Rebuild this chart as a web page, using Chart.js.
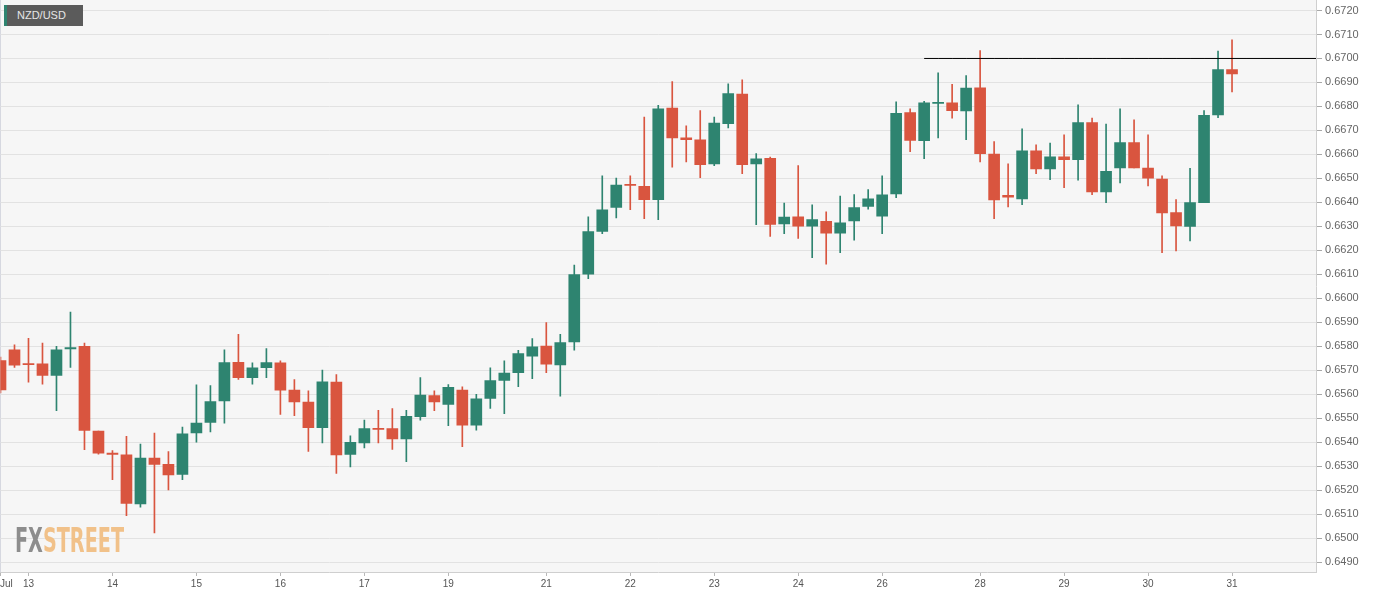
<!DOCTYPE html>
<html>
<head>
<meta charset="utf-8">
<title>NZD/USD</title>
<script src="https://cdn.jsdelivr.net/npm/chart.js@4.4.1/dist/chart.umd.min.js"></script>
<style>
  body { margin: 0; background: #fff; }
  #wrap { position: relative; width: 1387px; height: 598px; overflow: hidden; font-family: "Liberation Sans", Arial, sans-serif; }
  #chart { position: absolute; left: 0; top: 0; }
  #symbol {
    position: absolute; left: 4px; top: 5px; width: 66px; height: 21px;
    background: #5b5b5b; border-left: 3px solid #2e8470;
    color: #e6e6e6; font-size: 11px; line-height: 21px; padding-left: 10px;
  }
  #month { position: absolute; left: 0; top: 578px; font-size: 10px; color: #555; line-height: 12px; }
  #logo {
    position: absolute; left: 15px; top: 523px; font-size: 34px; line-height: 34px; font-weight: bold;
    font-family: "Liberation Sans Narrow", "DejaVu Sans Condensed", "Liberation Sans", sans-serif;
    transform-origin: 0 0; white-space: nowrap;
  }
  #logo .fx { color: #8d8d8d; }
  #logo .st { color: #f1c189; }
</style>
</head>
<body>
<div id="wrap">
  <canvas id="chart" width="1387" height="598"></canvas>
  <div id="symbol">NZD/USD</div>
  <div id="month">Jul</div>
  <div id="logo"><span class="fx">FX</span><span class="st">STREET</span></div>
</div>
<script>
// 4h candles, Jul 13 - Jul 31
const opens = [
  0.65740, 0.65785, 0.65727, 0.65726, 0.65678, 0.65789, 0.65799, 0.65446, 0.65354, 0.65347,
  0.65142, 0.65333, 0.65307, 0.65265, 0.65438, 0.65482, 0.65572, 0.65733, 0.65669, 0.65710,
  0.65731, 0.65617, 0.65567, 0.65460, 0.65650, 0.65349, 0.65397, 0.65457, 0.65456, 0.65413,
  0.65506, 0.65594, 0.65557, 0.65617, 0.65471, 0.65582, 0.65657, 0.65690, 0.65758, 0.65800,
  0.65722, 0.65818, 0.66100, 0.66279, 0.66379, 0.66475, 0.66467, 0.66411, 0.66793, 0.66669,
  0.66661, 0.66560, 0.66728, 0.66851, 0.66560, 0.66583, 0.66310, 0.66340, 0.66301, 0.66321,
  0.66271, 0.66322, 0.66383, 0.66342, 0.66435, 0.66774, 0.66657, 0.66812, 0.66815, 0.66781,
  0.66878, 0.66601, 0.66429, 0.66414, 0.66615, 0.66539, 0.66590, 0.66578, 0.66733, 0.66443,
  0.66543, 0.66649, 0.66543, 0.66497, 0.66357, 0.66300, 0.66399, 0.66765, 0.66954
];
const highs = [
  0.65755, 0.65806, 0.65833, 0.65813, 0.65799, 0.65942, 0.65813, 0.65446, 0.65365, 0.65424,
  0.65392, 0.65438, 0.65361, 0.65463, 0.65639, 0.65636, 0.65785, 0.65849, 0.65731, 0.65790,
  0.65739, 0.65661, 0.65614, 0.65700, 0.65682, 0.65426, 0.65492, 0.65533, 0.65540, 0.65533,
  0.65669, 0.65614, 0.65640, 0.65631, 0.65599, 0.65710, 0.65739, 0.65783, 0.65832, 0.65899,
  0.65849, 0.66138, 0.66339, 0.66511, 0.66501, 0.66511, 0.66756, 0.66804, 0.66904, 0.66719,
  0.66783, 0.66756, 0.66894, 0.66911, 0.66603, 0.66589, 0.66397, 0.66553, 0.66390, 0.66360,
  0.66426, 0.66432, 0.66453, 0.66510, 0.66819, 0.66790, 0.66821, 0.66940, 0.66892, 0.66929,
  0.67033, 0.66653, 0.66561, 0.66707, 0.66640, 0.66647, 0.66682, 0.66807, 0.66751, 0.66726,
  0.66790, 0.66744, 0.66682, 0.66510, 0.66411, 0.66542, 0.66783, 0.67031, 0.67078
];
const lows = [
  0.65605, 0.65712, 0.65650, 0.65642, 0.65531, 0.65712, 0.65368, 0.65350, 0.65243, 0.65093,
  0.65129, 0.65021, 0.65201, 0.65243, 0.65400, 0.65442, 0.65479, 0.65661, 0.65642, 0.65669,
  0.65515, 0.65510, 0.65361, 0.65397, 0.65269, 0.65297, 0.65376, 0.65397, 0.65369, 0.65318,
  0.65492, 0.65531, 0.65469, 0.65381, 0.65450, 0.65540, 0.65519, 0.65631, 0.65665, 0.65690,
  0.65592, 0.65783, 0.66082, 0.66269, 0.66335, 0.66369, 0.66332, 0.66328, 0.66547, 0.66569,
  0.66503, 0.66553, 0.66710, 0.66519, 0.66307, 0.66258, 0.66269, 0.66249, 0.66169, 0.66142,
  0.66190, 0.66242, 0.66371, 0.66269, 0.66419, 0.66611, 0.66582, 0.66669, 0.66751, 0.66661,
  0.66568, 0.66332, 0.66381, 0.66390, 0.66519, 0.66494, 0.66461, 0.66492, 0.66432, 0.66399,
  0.66481, 0.66543, 0.66468, 0.66190, 0.66197, 0.66239, 0.66399, 0.66753, 0.66860
];
const closes = [
  0.65618, 0.65721, 0.65723, 0.65678, 0.65785, 0.65794, 0.65449, 0.65354, 0.65349, 0.65144,
  0.65333, 0.65307, 0.65263, 0.65435, 0.65479, 0.65569, 0.65732, 0.65669, 0.65710, 0.65732,
  0.65617, 0.65568, 0.65460, 0.65651, 0.65347, 0.65399, 0.65456, 0.65453, 0.65413, 0.65508,
  0.65596, 0.65568, 0.65628, 0.65471, 0.65581, 0.65657, 0.65688, 0.65769, 0.65797, 0.65725,
  0.65815, 0.66099, 0.66278, 0.66369, 0.66472, 0.66471, 0.66411, 0.66790, 0.66669, 0.66661,
  0.66557, 0.66731, 0.66853, 0.66557, 0.66581, 0.66308, 0.66338, 0.66301, 0.66328, 0.66271,
  0.66315, 0.66378, 0.66415, 0.66431, 0.66771, 0.66658, 0.66815, 0.66817, 0.66782, 0.66876,
  0.66603, 0.66410, 0.66422, 0.66615, 0.66539, 0.66590, 0.66578, 0.66733, 0.66443, 0.66529,
  0.66649, 0.66543, 0.66501, 0.66356, 0.66302, 0.66399, 0.66763, 0.66954, 0.66936
];

// x axis: candle slot of each day label
const dayTickIndex = [0, 2, 8, 14, 20, 26, 32, 39, 45, 51, 57, 63, 70, 76, 82, 88];
const dayTickText = ['', '13', '14', '15', '16', '17', '19', '21', '22', '23', '24', '26', '28', '29', '30', '31'];
const slotCount = 95;

const priceTicks = [
  0.6490, 0.6500, 0.6510, 0.6520, 0.6530, 0.6540, 0.6550, 0.6560, 0.6570, 0.6580, 0.6590, 0.6600,
  0.6610, 0.6620, 0.6630, 0.6640, 0.6650, 0.6660, 0.6670, 0.6680, 0.6690, 0.6700, 0.6710, 0.6720
];
const priceMin = 0.648583;
const priceMax = 0.672417;

// resistance line
const levelPrice = 0.6700;
const levelFrom = 66;

const upColor = '#2e8470';
const downColor = '#d9553f';

const slots = [];
for (let i = 0; i < slotCount; i++) slots.push(String(i));

const bodies = opens.map((o, i) => [o, closes[i]]);
const wicks = lows.map((l, i) => [l, highs[i]]);
const candleColors = opens.map((o, i) => closes[i] >= o ? upColor : downColor);
const levelData = slots.map((s, i) => i >= levelFrom ? levelPrice : null);

const plotBackground = {
  id: 'plotBackground',
  beforeDraw(chart) {
    const a = chart.chartArea;
    const ctx = chart.ctx;
    ctx.save();
    ctx.fillStyle = '#f6f6f6';
    ctx.fillRect(0, 0, a.right, a.bottom);
    ctx.strokeStyle = '#d6d8e0';
    ctx.lineWidth = 1;
    ctx.beginPath();
    ctx.moveTo(0.5, 0);
    ctx.lineTo(0.5, a.bottom);
    ctx.stroke();
    ctx.restore();
  }
};

const ctx = document.getElementById('chart').getContext('2d');
new Chart(ctx, {
  type: 'bar',
  data: {
    labels: slots,
    datasets: [
      {
        type: 'line',
        data: levelData,
        borderColor: '#000',
        borderWidth: 1,
        pointRadius: 0,
        spanGaps: false
      },
      {
        data: bodies,
        backgroundColor: candleColors,
        barThickness: 11,
        grouped: false,
        minBarLength: 1
      },
      {
        data: wicks,
        backgroundColor: candleColors,
        barThickness: 1,
        grouped: false
      }
    ]
  },
  options: {
    responsive: false,
    animation: false,
    events: [],
    // half-pixel offsets keep wicks and the level line crisp
    layout: { padding: { left: 0.5, top: 0.5, right: 0, bottom: 0 } },
    plugins: {
      legend: { display: false },
      tooltip: { enabled: false }
    },
    scales: {
      x: {
        type: 'category',
        offset: false,
        grid: { offset: false, drawOnChartArea: false, drawTicks: true, tickLength: 4, tickColor: '#b8b8b8' },
        border: { color: '#cfcfcf' },
        ticks: {
          autoSkip: false,
          maxRotation: 0,
          padding: 2,
          color: '#555',
          font: { size: 10, family: '"Liberation Sans", Arial, sans-serif' },
          callback: function(value) {
            const k = dayTickIndex.indexOf(value);
            return k >= 0 ? dayTickText[k] : '';
          }
        },
        afterBuildTicks: function(scale) {
          scale.ticks = dayTickIndex.map(v => ({ value: v }));
        },
        afterFit: function(scale) {
          scale.height = 26;
          scale.paddingLeft = 0;
          scale.paddingRight = 0;
        }
      },
      y: {
        position: 'right',
        min: priceMin,
        max: priceMax,
        grid: { color: '#e2e2e2', tickColor: '#a8a8a8', tickLength: 6 },
        border: { color: '#cfcfcf' },
        ticks: {
          padding: 3,
          color: '#666',
          font: { size: 11, family: '"Liberation Sans", Arial, sans-serif' },
          callback: v => v.toFixed(4)
        },
        afterBuildTicks: function(scale) {
          scale.ticks = priceTicks.map(v => ({ value: v }));
        },
        afterFit: function(scale) {
          scale.width = 71;
          scale.paddingTop = 0;
          scale.paddingBottom = 0;
        }
      }
    }
  },
  plugins: [plotBackground]
});

// squeeze the logo to its width in the original
const logo = document.getElementById('logo');
const w = logo.getBoundingClientRect().width;
logo.style.transform = 'scaleX(' + (109 / w) + ')';
</script>
</body>
</html>
